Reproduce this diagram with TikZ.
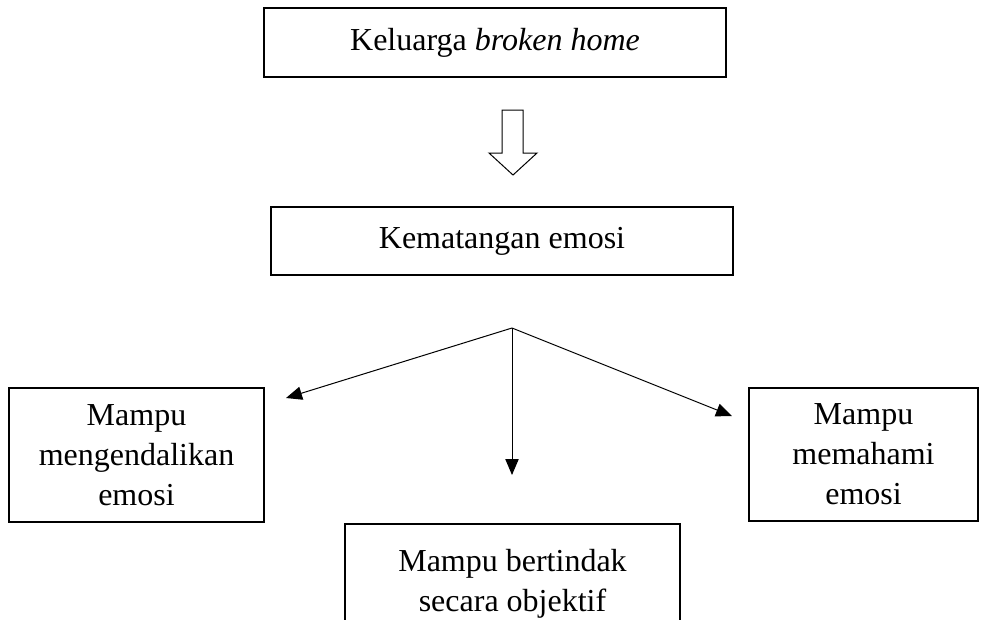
\documentclass[tikz,border=0pt]{standalone}
\usepackage{fontspec}
\setmainfont{Liberation Serif}
\usetikzlibrary{arrows.meta}

\def \boxLine {1.5pt}
\def \arrLine {0.75pt}

\tikzset{
  kotak/.style={draw, line width=\boxLine, inner sep=0pt, align=center,
    font=\fontsize{24}{30}\selectfont},
  panah/.style={-{Triangle[length=12pt,width=10pt]}, line width=\arrLine}
}

\begin{document}
\begin{tikzpicture}[x=0.75pt, y=-0.75pt]
      \clip (0,0) rectangle (987,619);
      \node[kotak, minimum width=346.5pt, minimum height=51.75pt] (keluarga) at (495,42.5) {Keluarga \textit{broken home}};
      \node[kotak, minimum width=346.5pt, minimum height=51pt] (matang) at (502,241) {Kematangan emosi};
      \draw[line width=\arrLine] (502,110) -- (523,110) -- (523,153) -- (537,153) -- (513,175) -- (489,153) -- (502,153) -- cycle;
      \node[kotak, minimum width=191.25pt, minimum height=100.5pt] (kendali) at (136.5,455) {Mampu\\mengendalikan\\emosi};
      \node[kotak, minimum width=171.75pt, minimum height=99.75pt] (paham) at (863.5,454.5) {Mampu\\memahami\\emosi};
      \node[kotak, anchor=north, minimum width=251.25pt, minimum height=90pt] (objektif) at (512.5,523) {Mampu bertindak\\secara objektif};
      \coordinate (fan) at (512,328);
      \coordinate (tipKendali) at (286,398);
      \coordinate (tipObjektif) at (512,475);
      \coordinate (tipPaham) at (732,416);
      \draw[panah] (fan) -- (tipKendali);
      \draw[panah] (fan) -- (tipObjektif);
      \draw[panah] (fan) -- (tipPaham);
   \end{tikzpicture}
\end{document}
